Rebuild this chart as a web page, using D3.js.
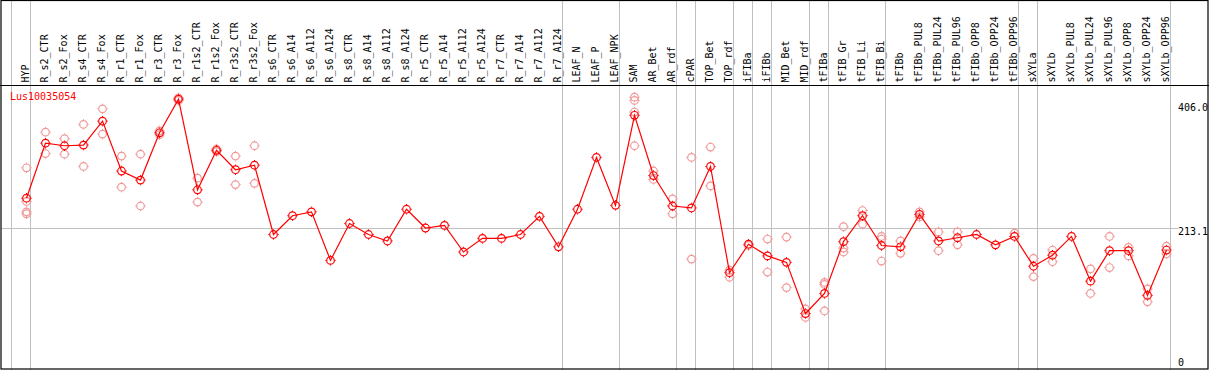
<!DOCTYPE html>
<html>
<head>
<meta charset="utf-8">
<script src="https://cdn.jsdelivr.net/npm/d3@7"></script>
<style>
body{margin:0;padding:0;background:#fff;}
svg{display:block;}
</style>
</head>
<body>
<div id="box"></div>
<script>
var geneName='Lus10035054';

var samples=['HYP','R_s2_CTR','R_s2_Fox','R_s4_CTR','R_s4_Fox','R_r1_CTR','R_r1_Fox','R_r3_CTR','R_r3_Fox',
	'R_r1s2_CTR','R_r1s2_Fox','R_r3s2_CTR','R_r3s2_Fox','R_s6_CTR','R_s6_A14','R_s6_A112','R_s6_A124',
	'R_s8_CTR','R_s8_A14','R_s8_A112','R_s8_A124','R_r5_CTR','R_r5_A14','R_r5_A112','R_r5_A124',
	'R_r7_CTR','R_r7_A14','R_r7_A112','R_r7_A124','LEAF_N','LEAF_P','LEAF_NPK','SAM','AR_Bet','AR_rdf',
	'cPAR','TOP_Bet','TOP_rdf','iFIBa','iFIBb','MID_Bet','MID_rdf','tFIBa','tFIB_Gr','tFIB_Li','tFIB_Bi',
	'tFIBb','tFIBb_PUL8','tFIBb_PUL24','tFIBb_PUL96','tFIBb_OPP8','tFIBb_OPP24','tFIBb_OPP96',
	'sXYLa','sXYLb','sXYLb_PUL8','sXYLb_PUL24','sXYLb_PUL96','sXYLb_OPP8','sXYLb_OPP24','sXYLb_OPP96'];

// mean expression per sample
var means=[259,344,340,341,378,301,287,360,412,272,333,303,310,203,232,238,163,220,203,193,242,213,217,176,197,
	197,203,231,184,242,322,248,387,294,247,244,308,144,188,170,160,81,112,192,232,186,184,234,193,198,203,187,200,
	154,171,200,131,178,178,109,179];

// replicate values (same order as samples)
var replicates=[[306,254,238,235],[361,328],[351,327],[373,308],[397,358],[324,276],[327,247],[363,357],[410,414],
	[290,253],[335,331],[324,280],[340,282],[],[],[],[],[],[],[],[],[],[],[],[],[],[],[],[],[],[],[],
	[415,410,392,340],[301,288],[258,235],[322,165],[338,278],[148,137],[186],[196,145],[199,121],[88,75],
	[129,126,85],[215,182,176],[240,219],[200,196,162],[193,174],[238,230],[207,178],[207,187],[],[],[205],
	[166,138],[179,161],[],[150,112],[200,152],[183,170],[119,99],[185,173]];

// group separators: index of the sample after which a grey line is drawn (-1 = before first)
var separators=[-1,0,28,31,34,35,37,38,39,41,42,45,52,53,60];

var yTicks=[406.0,213.1,0];

var W=1209,H=370,
	headH=85,
	svg=d3.select('#box').append('svg')
		.attr('width',W).attr('height',H)
		.attr('font-family','DejaVu Sans Mono').attr('font-size',10);

var x=d3.scaleBand().domain(d3.range(samples.length)).range([11,11+samples.length*19]),
	y=d3.scaleLinear().domain([0,406]).range([366,103]),
	px=function(i){return x(i)+15.5};

// grey grid
svg.append('g').selectAll('line').data(separators).join('line')
	.attr('x1',function(d){return x(0)+(d+1)*x.bandwidth()+0.5})
	.attr('x2',function(d){return x(0)+(d+1)*x.bandwidth()+0.5})
	.attr('y1',0).attr('y2',H)
	.attr('stroke','#c0c0c0').attr('stroke-width',1);

svg.append('line')
	.attr('x1',1).attr('x2',1178)
	.attr('y1',Math.round(y(213.1))+0.5).attr('y2',Math.round(y(213.1))+0.5)
	.attr('stroke','#c0c0c0');

// frame
svg.append('rect').attr('x',1).attr('y',0.5).attr('width',W-2).attr('height',H-1.5)
	.attr('fill','none').attr('stroke','#000').attr('stroke-width',1.2);
svg.append('line').attr('x1',0).attr('x2',W).attr('y1',headH+0.5).attr('y2',headH+0.5)
	.attr('stroke','#000').attr('stroke-width',1.2);

// sample labels
svg.append('g').selectAll('text').data(samples).join('text')
	.attr('transform',function(d,i){return 'translate('+(px(i)+2.5)+','+(headH-2.5)+') rotate(-90)'})
	.attr('fill','#000')
	.text(function(d){return d});

// y labels
svg.append('g').selectAll('text').data(yTicks).join('text')
	.attr('x',1178)
	.attr('y',function(d){return Math.min(y(d)+7.5,365.5)})
	.attr('fill','#000')
	.text(function(d){return d==0?'0':d.toFixed(1)});

svg.append('text').attr('x',10).attr('y',100).attr('fill','#f00').text(geneName);

function marker(g,cx,cy,color){
	g.append('circle').attr('cx',cx).attr('cy',cy).attr('r',3.8)
		.attr('fill','none').attr('stroke',color).attr('stroke-width',1.2);
	g.append('path')
		.attr('d','M'+cx+' '+(cy-5.2)+'v1M'+cx+' '+(cy+4.2)+'v1M'+(cx-5.2)+' '+cy+'h1M'+(cx+4.2)+' '+cy+'h1')
		.attr('stroke',color).attr('stroke-width',1);
}

var gRep=svg.append('g');
replicates.forEach(function(arr,i){
	arr.forEach(function(v){marker(gRep,px(i),y(v),'#f09898')});
});

svg.append('path').datum(means)
	.attr('d',d3.line().x(function(d,i){return px(i)}).y(function(d){return y(d)}))
	.attr('fill','none').attr('stroke','#f00').attr('stroke-width',1.2);

var gMean=svg.append('g');
means.forEach(function(v,i){marker(gMean,px(i),y(v),'#f00')});
</script>
</body>
</html>
